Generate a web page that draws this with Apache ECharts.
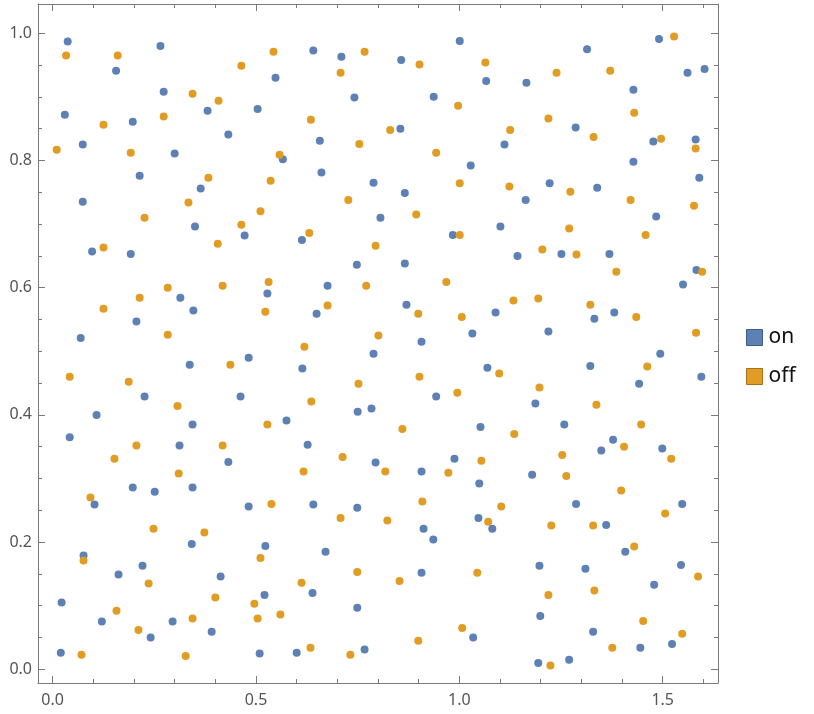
<!DOCTYPE html>
<html>
<head>
<meta charset="utf-8">
<script src="https://cdn.jsdelivr.net/npm/echarts@6/dist/echarts.min.js"></script>
<style>
  html, body { margin: 0; padding: 0; background: #fff; }
  #main { width: 814px; height: 714px; }
</style>
</head>
<body>
<div id="main"></div>
<script>
  // points, [x, y]
  var onPoints = [
    [0.037,0.987],[0.265,0.980],[0.156,0.941],[0.273,0.908],[0.381,0.878],[0.030,0.872],[0.197,0.861],
    [0.074,0.825],[0.300,0.811],[0.214,0.776],[0.364,0.756],[0.074,0.735],[0.350,0.696],
    [0.641,0.973],[0.710,0.963],[0.548,0.930],[0.742,0.899],[0.504,0.881],[0.432,0.841],[0.657,0.831],
    [0.566,0.802],[0.661,0.781],[0.789,0.765],[0.806,0.710],[0.472,0.682],
    [1.001,0.988],[0.857,0.958],[1.066,0.925],[1.165,0.922],[0.937,0.900],[0.855,0.850],[1.111,0.825],
    [1.028,0.792],[0.866,0.749],[1.222,0.764],[1.163,0.738],[1.101,0.696],[0.984,0.683],
    [1.491,0.991],[1.314,0.975],[1.561,0.938],[1.603,0.944],[1.428,0.911],[1.286,0.852],[1.477,0.830],
    [1.581,0.833],[1.428,0.798],[1.339,0.757],[1.590,0.773],[1.484,0.712],
    [0.097,0.657],[0.192,0.653],[0.314,0.584],[0.346,0.564],[0.206,0.547],[0.069,0.521],[0.337,0.479],
    [0.226,0.429],[0.108,0.400],[0.344,0.385],[0.042,0.365],[0.312,0.352],
    [0.613,0.675],[0.748,0.636],[0.528,0.591],[0.676,0.603],[0.649,0.559],[0.482,0.490],[0.789,0.496],
    [0.614,0.473],[0.462,0.429],[0.750,0.405],[0.784,0.410],[0.575,0.391],[0.627,0.353],[0.432,0.326],[0.794,0.325],
    [1.143,0.650],[0.866,0.638],[0.870,0.573],[1.089,0.561],[0.907,0.515],[1.032,0.528],[1.219,0.531],
    [1.069,0.474],[0.943,0.429],[1.187,0.418],[1.052,0.381],[0.988,0.331],
    [1.251,0.653],[1.369,0.653],[1.583,0.628],[1.550,0.605],[1.381,0.561],[1.332,0.551],[1.494,0.496],
    [1.322,0.477],[1.595,0.460],[1.442,0.449],[1.258,0.385],[1.378,0.361],[1.349,0.344],[1.499,0.347],
    [0.197,0.286],[0.251,0.279],[0.344,0.286],[0.103,0.259],[0.342,0.197],[0.076,0.179],[0.221,0.163],
    [0.162,0.149],[0.022,0.105],[0.121,0.075],[0.295,0.075],[0.241,0.050],[0.391,0.059],[0.020,0.026],
    [0.482,0.256],[0.641,0.259],[0.749,0.254],[0.523,0.194],[0.671,0.185],[0.413,0.146],[0.521,0.117],
    [0.639,0.120],[0.749,0.097],[0.509,0.025],[0.600,0.026],[0.767,0.031],
    [0.907,0.311],[1.179,0.306],[1.049,0.292],[1.047,0.238],[1.081,0.221],[0.912,0.221],[0.936,0.204],
    [1.197,0.163],[0.907,0.152],[1.199,0.084],[1.034,0.050],[1.194,0.010],
    [1.287,0.260],[1.548,0.260],[1.361,0.227],[1.408,0.185],[1.310,0.158],[1.545,0.164],[1.479,0.133],
    [1.329,0.059],[1.445,0.034],[1.523,0.040],[1.270,0.015]
  ];
  var offPoints = [
    [0.033,0.965],[0.160,0.965],[0.344,0.905],[0.273,0.869],[0.125,0.856],[0.010,0.817],[0.192,0.812],
    [0.383,0.773],[0.334,0.734],[0.226,0.710],
    [0.543,0.971],[0.767,0.971],[0.464,0.949],[0.708,0.938],[0.408,0.894],[0.635,0.864],[0.754,0.826],
    [0.558,0.809],[0.536,0.768],[0.727,0.738],[0.511,0.720],[0.464,0.699],[0.631,0.686],
    [0.902,0.951],[1.064,0.954],[0.997,0.886],[1.219,0.866],[0.830,0.848],[1.125,0.848],[0.943,0.812],
    [1.001,0.764],[1.123,0.759],[0.894,0.715],[1.001,0.683],
    [1.528,0.995],[1.239,0.938],[1.371,0.941],[1.430,0.875],[1.330,0.837],[1.496,0.834],[1.581,0.819],
    [1.273,0.751],[1.421,0.738],[1.577,0.729],[1.270,0.693],[1.458,0.683],
    [0.125,0.663],[0.283,0.600],[0.214,0.584],[0.125,0.567],[0.283,0.526],[0.042,0.460],[0.187,0.452],
    [0.307,0.414],[0.206,0.352],[0.152,0.331],
    [0.406,0.669],[0.794,0.666],[0.418,0.603],[0.531,0.609],[0.771,0.603],[0.523,0.562],[0.676,0.572],
    [0.801,0.525],[0.619,0.507],[0.437,0.479],[0.752,0.449],[0.636,0.421],[0.528,0.385],[0.418,0.352],[0.713,0.334],
    [1.204,0.660],[0.968,0.609],[0.899,0.559],[1.006,0.554],[1.133,0.580],[1.194,0.583],[1.098,0.465],
    [0.902,0.460],[1.197,0.443],[0.995,0.435],[0.860,0.378],[1.135,0.370],[1.054,0.328],
    [1.288,0.652],[1.597,0.625],[1.386,0.625],[1.322,0.573],[1.435,0.554],[1.582,0.529],[1.462,0.476],
    [1.337,0.416],[1.447,0.385],[1.405,0.350],[1.253,0.337],[1.521,0.331],
    [0.310,0.308],[0.093,0.270],[0.248,0.221],[0.373,0.215],[0.076,0.171],[0.236,0.135],[0.157,0.092],
    [0.344,0.080],[0.211,0.062],[0.071,0.023],[0.327,0.021],
    [0.617,0.311],[0.538,0.260],[0.708,0.238],[0.511,0.175],[0.749,0.153],[0.612,0.136],[0.400,0.113],
    [0.496,0.103],[0.504,0.080],[0.560,0.086],[0.634,0.034],[0.732,0.023],
    [0.818,0.311],[0.973,0.309],[0.909,0.264],[1.103,0.256],[0.823,0.234],[1.071,0.232],[1.226,0.226],
    [1.044,0.152],[0.853,0.139],[1.219,0.117],[1.007,0.065],[0.899,0.045],[1.224,0.006],
    [1.263,0.304],[1.398,0.281],[1.506,0.245],[1.329,0.226],[1.430,0.193],[1.587,0.146],[1.332,0.124],
    [1.452,0.076],[1.548,0.056],[1.376,0.034]
  ];

  var seriesNames = ['on', 'off'];
  var xMajor = [0, 0.5, 1.0, 1.5];
  var xMinor = [0.1, 0.2, 0.3, 0.4, 0.6, 0.7, 0.8, 0.9, 1.1, 1.2, 1.3, 1.4, 1.6];
  var yMajor = [0, 0.2, 0.4, 0.6, 0.8, 1.0];
  var yMinor = [0.05, 0.1, 0.15, 0.25, 0.3, 0.35, 0.45, 0.5, 0.55, 0.65, 0.7, 0.75, 0.85, 0.9, 0.95];

  var xMin = -0.036, xMax = 1.636;
  var yMin = -0.0215, yMax = 1.046;
  var frameColor = '#7a7a7a';
  var font = 'Noto Sans';

  function xAx(pos, ticks, len, labels, line) {
    return {
      type: 'value', position: pos, min: xMin, max: xMax,
      axisLine: { show: line, onZero: false, lineStyle: { color: frameColor, width: 1 } },
      axisTick: { show: true, inside: true, length: len, customValues: ticks,
                  lineStyle: { color: frameColor } },
      axisLabel: { show: labels, customValues: ticks, margin: 9, fontSize: 16, color: '#555',
                   fontFamily: font, formatter: function (v) { return v.toFixed(1); } },
      splitLine: { show: false }
    };
  }
  function yAx(pos, ticks, len, labels, line) {
    return {
      type: 'value', position: pos, min: yMin, max: yMax,
      axisLine: { show: line, onZero: false, lineStyle: { color: frameColor, width: 1 } },
      axisTick: { show: true, inside: true, length: len, customValues: ticks,
                  lineStyle: { color: frameColor } },
      axisLabel: { show: labels, customValues: ticks, margin: 6, fontSize: 16, color: '#555',
                   fontFamily: font, formatter: function (v) { return v.toFixed(1); } },
      splitLine: { show: false }
    };
  }

  var chart = echarts.init(document.getElementById('main'), null, { renderer: 'canvas' });
  chart.setOption({
    animation: false,
    backgroundColor: '#fff',
    grid: { left: 38, right: 96, top: 4, bottom: 31 },
    legend: {
      orient: 'vertical', left: 741, top: 322,
      icon: 'rect', itemWidth: 16, itemHeight: 16, itemGap: 18,
      textStyle: { fontSize: 21, color: '#111', fontFamily: font, padding: [0, 0, 0, 1] },
      data: [
        { name: seriesNames[0], itemStyle: { borderColor: '#3f5c87', borderWidth: 1 } },
        { name: seriesNames[1], itemStyle: { borderColor: '#a7711a', borderWidth: 1 } }
      ]
    },
    xAxis: [
      xAx('bottom', xMajor, 7, true, true),
      xAx('bottom', xMinor, 4, false, false),
      xAx('top', xMajor, 7, false, true),
      xAx('top', xMinor, 4, false, false)
    ],
    yAxis: [
      yAx('left', yMajor, 7, true, true),
      yAx('left', yMinor, 4, false, false),
      yAx('right', yMajor, 7, false, true),
      yAx('right', yMinor, 4, false, false)
    ],
    series: [
      { name: seriesNames[0], type: 'scatter', data: onPoints, symbolSize: 8,
        itemStyle: { color: '#5e81b5', opacity: 1 } },
      { name: seriesNames[1], type: 'scatter', data: offPoints, symbolSize: 8,
        itemStyle: { color: '#e19c24', opacity: 1 } }
    ]
  });
</script>
</body>
</html>
